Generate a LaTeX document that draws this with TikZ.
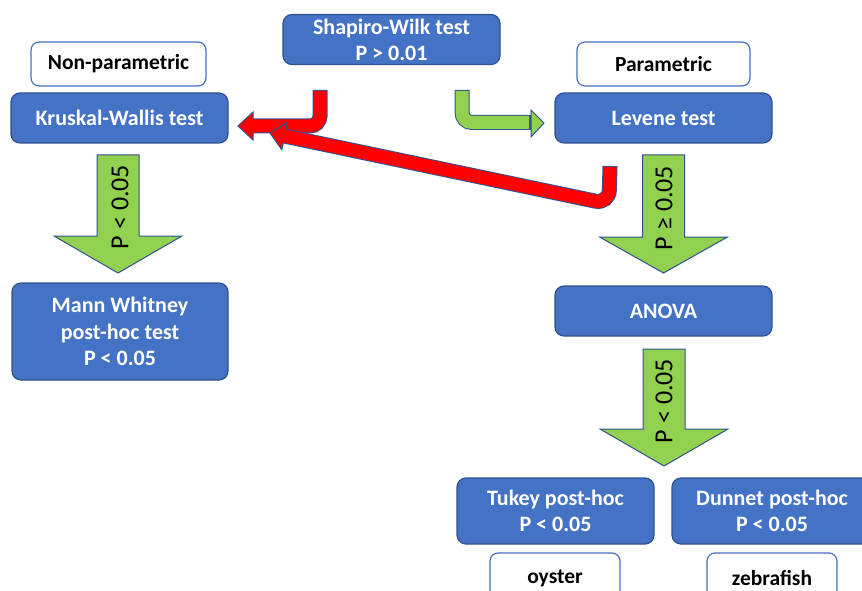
\documentclass[tikz,border=0pt]{standalone}
\usepackage{fontspec}
\setmainfont{Carlito}
\usetikzlibrary{calc}
\definecolor{boxblue}{HTML}{4472C4}
\definecolor{edgeblue}{HTML}{2F528F}
\definecolor{arrgreen}{HTML}{92D050}
\definecolor{arrred}{HTML}{FF0000}
\newcommand\greenblock[4]{%
  \draw[blockedge, fill=arrgreen] (#1-21,#2) -- (#1+21,#2) -- (#1+21,#3) -- (#1+64,#3) -- (#1,#4) -- (#1-64,#3) -- (#1-21,#3) -- cycle;}
\begin{document}
\begin{tikzpicture}[x=1pt,y=-1pt,
  bluebox/.style={draw=edgeblue, fill=boxblue, line width=1.2pt, rounded corners=9pt, text=white,
    font=\bfseries\fontsize{22}{26}\selectfont, align=center, inner sep=0pt, outer sep=0pt},
  whitebox/.style={draw=boxblue, fill=white, line width=1.2pt, rounded corners=8pt, text=black,
    font=\bfseries\fontsize{21.5}{25}\selectfont, align=center, inner sep=0pt, outer sep=0pt},
  arrlabel/.style={rotate=90, font=\fontsize{26}{30}\selectfont, inner sep=0pt},
  blockedge/.style={draw=edgeblue, line width=1pt}
]
\useasboundingbox (0,0) rectangle (862,591);

% nodes
\node[bluebox, minimum width=217pt, minimum height=50pt] (sw) at (391.5,39.5) {Shapiro-Wilk test\\P > 0.01};
\node[whitebox, minimum width=175pt, minimum height=44pt] (np) at (118.5,64) {Non-parametric};
\node[bluebox, minimum width=217pt, minimum height=50pt] (kw) at (119.5,118) {Kruskal-Wallis test};
\node[whitebox, minimum width=173pt, minimum height=44pt] (par) at (663.5,64) {Parametric};
\node[bluebox, minimum width=217pt, minimum height=50pt] (lev) at (663.5,118) {Levene test};
\node[bluebox, minimum width=216pt, minimum height=97pt, font=\bfseries\fontsize{22}{26.5}\selectfont] (mw) at (120,331.5) {Mann Whitney\\post-hoc test\\P < 0.05};
\node[bluebox, minimum width=217pt, minimum height=50pt] (anova) at (663.5,311) {ANOVA};
\node[bluebox, minimum width=197pt, minimum height=66pt] (tukey) at (555.5,511) {Tukey post-hoc\\P < 0.05};
\node[bluebox, minimum width=200pt, minimum height=66pt] (dunnet) at (772,511) {Dunnet post-hoc\\P < 0.05};
\node[whitebox, minimum width=130pt, minimum height=50pt] (oyster) at (555,578) {oyster};
\node[whitebox, minimum width=130pt, minimum height=50pt] (zebra) at (772,578) {zebrafish};

% green block arrows
\greenblock{118}{155}{236}{273}
\node[arrlabel] (l1) at (120,207) {P < 0.05};
\greenblock{663.5}{155}{237}{273}
\node[arrlabel] (l2) at (664,208) {P ≥ 0.05};
\greenblock{664}{349}{429}{466}
\node[arrlabel] (l3) at (664,401) {P < 0.05};

% green bent arrow
\coordinate (gs) at (462,90);
\coordinate (gc) at (462,122.5);
\coordinate (gt) at (544,123);
\draw[line width=15pt, edgeblue, rounded corners=10pt] (gs) -- (gc) -- (531,122.5);
\draw[blockedge, fill=arrgreen] (531,110) -- (gt) -- (531,137) -- cycle;
\draw[line width=13pt, arrgreen, rounded corners=10pt] (462,91) -- (gc) -- (529,122.5);

% red bent arrow 1
\coordinate (r1s) at (320,90);
\coordinate (r1c) at (320,126);
\coordinate (r1t) at (238,126);
\draw[line width=15pt, edgeblue, rounded corners=10pt] (r1s) -- (r1c) -- (253,126);
\draw[blockedge, fill=arrred] (253,112) -- (r1t) -- (253,140) -- cycle;
\draw[line width=13pt, arrred, rounded corners=10pt] (320,91) -- (r1c) -- (251,126);

% red arrow 2
\coordinate (r2s) at (610,166);
\coordinate (r2c) at (609,204);
\coordinate (r2t) at (270,133);
\coordinate (r2b) at ($(r2t)!15pt!(r2c)$);
\draw[line width=15pt, edgeblue, rounded corners=14pt] (r2s) -- (r2c) -- (r2b);
\draw[blockedge, fill=arrred] ($(r2b)!14pt!90:(r2t)$) -- (r2t) -- ($(r2b)!14pt!-90:(r2t)$) -- cycle;
\draw[line width=13pt, arrred, rounded corners=14pt] ($(r2s)+(0,1)$) -- (r2c) -- ($(r2t)!13pt!(r2c)$);
\end{tikzpicture}
\end{document}
